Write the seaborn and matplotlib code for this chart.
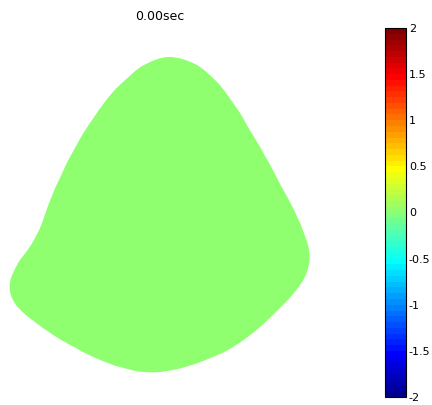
import numpy as np
import matplotlib
matplotlib.use("Agg")
import matplotlib.pyplot as plt
from matplotlib.colors import ListedColormap
from matplotlib.path import Path
from matplotlib.patches import PathPatch
import seaborn as sns

title_text = "0.00sec"
vmin, vmax = -2.0, 2.0
cbar_ticks = [-2, -1.5, -1, -0.5, 0, 0.5, 1, 1.5, 2]
cbar_labels = ["-2", "-1.5", "-1", "-0.5", "0", "0.5", "1", "1.5", "2"]

# Region outline, clockwise from the apex (pixel units, y pointing down)
outline_x = [169, 195, 217, 236, 251, 265, 278, 291, 302, 309, 308, 300, 283,
             260, 233, 203, 173, 145, 120, 98, 76, 49, 26, 13, 10, 17, 29,
             40, 48, 58, 70, 86, 104, 123, 144]
outline_y = [57, 64, 82, 107, 132, 156, 180, 204, 228, 250, 268, 285, 305,
             327, 347, 361, 370, 372, 367, 359, 348, 332, 315, 300, 282, 265,
             248, 228, 206, 182, 157, 129, 103, 82, 65]

# Field on a 10 px grid (37 rows x 32 columns); every node is 0 at t = 0
field = np.zeros((37, 32))


def jet64():
    i = np.arange(1, 65)
    r = np.clip(np.minimum((i - 24) / 16, (72 - i) / 16), 0, 1)
    g = np.clip(np.minimum((i - 8) / 16, (56 - i) / 16), 0, 1)
    b = np.clip(np.minimum((i + 8) / 16, (40 - i) / 16), 0, 1)
    return ListedColormap(np.column_stack([r, g, b]))


def smooth_closed_path(px, py):
    pts = np.column_stack([px, py])
    n = len(pts)
    verts = [pts[0]]
    codes = [Path.MOVETO]
    for k in range(n):
        p0, p1, p2, p3 = pts[k - 1], pts[k], pts[(k + 1) % n], pts[(k + 2) % n]
        verts += [p1 + (p2 - p0) / 6, p2 - (p3 - p1) / 6, p2]
        codes += [Path.CURVE4] * 3
    verts.append(pts[0])
    codes.append(Path.CLOSEPOLY)
    return Path(np.array(verts), codes)


sns.set_style("white")
plt.rcParams["font.family"] = ["DejaVu Sans"]
plt.rcParams["axes.unicode_minus"] = False

W, H = 432, 405
fig = plt.figure(figsize=(W / 100, H / 100), dpi=100)
ax = fig.add_axes([0, 5 / H, 320 / W, 370 / H])
cax = fig.add_axes([385 / W, 8 / H, 21 / W, 369 / H])

sns.heatmap(field, cmap=jet64(), vmin=vmin, vmax=vmax, ax=ax, cbar_ax=cax,
            xticklabels=False, yticklabels=False)

# clip the field to the region outline (grid units)
ox = np.array(outline_x) / 10.0
oy = (np.array(outline_y) - 30) / 10.0
patch = PathPatch(smooth_closed_path(ox, oy), facecolor="none",
                  edgecolor="none", lw=0, transform=ax.transData)
ax.add_patch(patch)
ax.collections[0].set_clip_path(patch)
ax.axis("off")
ax.set_title(title_text, fontsize=9, pad=7.5, color="black")

cbar = ax.collections[0].colorbar
cbar.set_ticks(cbar_ticks)
cbar.set_ticklabels(cbar_labels)
cbar.outline.set_visible(True)
cbar.outline.set_edgecolor("black")
cbar.outline.set_linewidth(0.8)
cax.minorticks_off()
cax.tick_params(axis="y", direction="in", left=True, right=True,
                length=2.5, width=0.6, labelsize=8, pad=2, colors="black")

fig.savefig("out.png", dpi=100, facecolor="white")
